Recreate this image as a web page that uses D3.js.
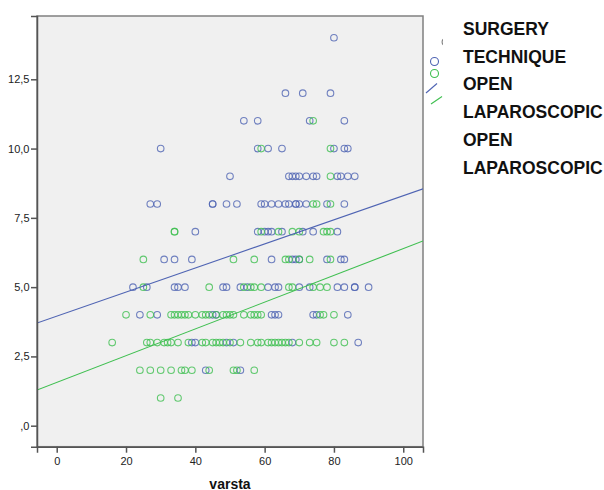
<!DOCTYPE html>
<html>
<head>
<meta charset="utf-8">
<script src="https://cdn.jsdelivr.net/npm/d3@7"></script>
<style>
  body { margin: 0; background: #fff; }
  svg { display: block; font-family: Arial, "Liberation Sans", sans-serif; }
</style>
</head>
<body>
<svg id="chart"></svg>
<script>
// score (y) -> ages (x) for each surgery technique
const openRows = [
  [14, [80]],
  [12, [66, 71, 79]],
  [11, [54, 58, 73, 83]],
  [10, [30, 58, 61, 65, 80, 83, 84]],
  [9, [50, 67, 68, 69, 70, 72, 74, 75, 81, 82, 84, 86]],
  [8, [27, 29, 45, 45, 49, 52, 59, 60, 62, 64, 66, 67, 69, 69, 70, 72, 78, 83]],
  [7, [40, 58, 60, 61, 62, 65, 71, 74, 81]],
  [6, [31, 34, 39, 62, 68, 69, 70, 78, 82, 83]],
  [5, [22, 26, 34, 35, 37, 48, 49, 53, 55, 61, 63, 64, 70, 73, 81, 83, 86, 86, 90]],
  [4, [24, 29, 45, 46, 62, 63, 64, 74, 75, 84]],
  [3, [39, 40, 49, 51, 68, 87]],
  [2, [43, 53]]
]
const lapRows = [
  [11, [74]],
  [10, [59, 79]],
  [9, [79]],
  [8, [74, 75, 79]],
  [7, [34, 34, 59, 64, 68, 70, 77, 78, 79]],
  [6, [25, 51, 57, 66, 67, 70, 73, 79]],
  [5, [25, 44, 54, 56, 57, 59, 67, 68, 74, 76, 78]],
  [4, [20, 27, 33, 34, 35, 36, 37, 38, 40, 42, 43, 44, 46, 48, 49, 50, 51, 54, 56, 57, 58, 59, 76, 77, 80]],
  [3, [16, 26, 27, 29, 31, 32, 33, 35, 38, 42, 43, 45, 46, 47, 48, 50, 53, 56, 58, 59, 61, 62, 63, 64, 65, 66, 67, 70, 73, 75, 80, 83]],
  [2, [24, 27, 30, 33, 36, 37, 39, 44, 51, 52, 57]],
  [1, [30, 35]]
]

// fit lines: [intercept, slope]
const fitOpen = [3.95, 0.0435]
const fitLap = [1.56, 0.0483]

const xTicks = [0, 20, 40, 60, 80, 100]
const yTicks = [0, 2.5, 5, 7.5, 10, 12.5]
const legendLines = ["SURGERY", "TECHNIQUE", "OPEN", "LAPAROSCOPIC", "OPEN", "LAPAROSCOPIC"]

const blue = "#4f64b3"
const green = "#3fbf50"

const W = 604, H = 490
const margin = {left: 37, top: 16, right: 181, bottom: 43.3}
const pw = W - margin.left - margin.right
const ph = H - margin.top - margin.bottom

const svg = d3.select("#chart").attr("width", W).attr("height", H)

const x = d3.scaleLinear().domain([-5.69, 105.7]).range([0, pw])
const y = d3.scaleLinear().domain([-0.758, 14.784]).range([ph, 0])

const g = svg.append("g").attr("transform", `translate(${margin.left},${margin.top})`)

g.append("defs").append("clipPath").attr("id", "plotclip")
  .append("rect").attr("width", pw).attr("height", ph)

g.append("rect")
  .attr("width", pw).attr("height", ph)
  .attr("fill", "#f0f0f0")
  .attr("stroke", "#808080")
  .attr("stroke-width", 1.5)

const flat = rows => rows.flatMap(([score, ages]) => ages.map(a => ({age: a, score: score})))

const plot = g.append("g").attr("clip-path", "url(#plotclip)")

plot.append("g").selectAll("circle")
  .data(flat(openRows)).join("circle")
  .attr("cx", d => x(d.age)).attr("cy", d => y(d.score))
  .attr("r", 3.3)
  .attr("fill", "none").attr("stroke", blue).attr("stroke-opacity", 0.8).attr("stroke-width", 1.1)

plot.append("g").selectAll("circle")
  .data(flat(lapRows)).join("circle")
  .attr("cx", d => x(d.age)).attr("cy", d => y(d.score))
  .attr("r", 3.3)
  .attr("fill", "none").attr("stroke", green).attr("stroke-opacity", 0.8).attr("stroke-width", 1.1)

const xd = x.domain()
plot.selectAll("line.fit")
  .data([[fitOpen, blue], [fitLap, green]]).join("line")
  .attr("class", "fit")
  .attr("x1", x(xd[0])).attr("x2", x(xd[1]))
  .attr("y1", d => y(d[0][0] + d[0][1] * xd[0]))
  .attr("y2", d => y(d[0][0] + d[0][1] * xd[1]))
  .attr("stroke", d => d[1]).attr("stroke-width", 1.1)

const fmt = v => {
  let s = d3.format(".1f")(v).replace(".", ",")
  return s === "0,0" ? ",0" : s
}

const yAxis = g.append("g")
  .call(d3.axisLeft(y).tickValues(yTicks).tickFormat(fmt).tickSizeOuter(0).tickSize(6).tickPadding(1.5))
const xAxis = g.append("g").attr("transform", `translate(0,${ph})`)
  .call(d3.axisBottom(x).tickValues(xTicks).tickSizeOuter(0).tickSize(6).tickPadding(4.5))

for (const ax of [yAxis, xAxis]) {
  ax.select(".domain").attr("stroke", "#555").attr("stroke-width", 1.5)
  ax.selectAll(".tick line").attr("stroke", "#555").attr("stroke-width", 1.5)
  ax.selectAll(".tick text").attr("fill", "#222").style("font-size", "11px")
    .style("font-family", "Arial, 'Liberation Sans', sans-serif")
}

svg.append("text")
  .attr("x", margin.left + pw / 2).attr("y", 488.5)
  .attr("text-anchor", "middle")
  .style("font-size", "14px").style("font-weight", "bold")
  .attr("fill", "#111")
  .text("varsta")

// legend
const leg = svg.append("g")
leg.append("defs").append("clipPath").attr("id", "legclip")
  .append("rect").attr("x", 438).attr("y", 35).attr("width", 5).attr("height", 14)
leg.append("circle").attr("cx", 445.5).attr("cy", 42).attr("r", 3.4)
  .attr("fill", "none").attr("stroke", "#777").attr("stroke-width", 1.1)
  .attr("clip-path", "url(#legclip)")
leg.append("circle").attr("cx", 434.5).attr("cy", 61.5).attr("r", 4)
  .attr("fill", "none").attr("stroke", blue).attr("stroke-width", 1.1)
leg.append("circle").attr("cx", 434.5).attr("cy", 73.5).attr("r", 4)
  .attr("fill", "none").attr("stroke", green).attr("stroke-width", 1.1)
leg.append("line").attr("x1", 426).attr("y1", 93).attr("x2", 437).attr("y2", 83.5)
  .attr("stroke", blue).attr("stroke-width", 1.1)
leg.append("line").attr("x1", 431).attr("y1", 104).attr("x2", 442).attr("y2", 96.5)
  .attr("stroke", green).attr("stroke-width", 1.1)

leg.selectAll("text.lg")
  .data(legendLines).join("text")
  .attr("class", "lg")
  .attr("x", 463).attr("y", (d, i) => 34.8 + i * 27.8)
  .style("font-size", "17.5px").style("font-weight", "bold")
  .attr("fill", "#111")
  .text(d => d)
</script>
</body>
</html>
